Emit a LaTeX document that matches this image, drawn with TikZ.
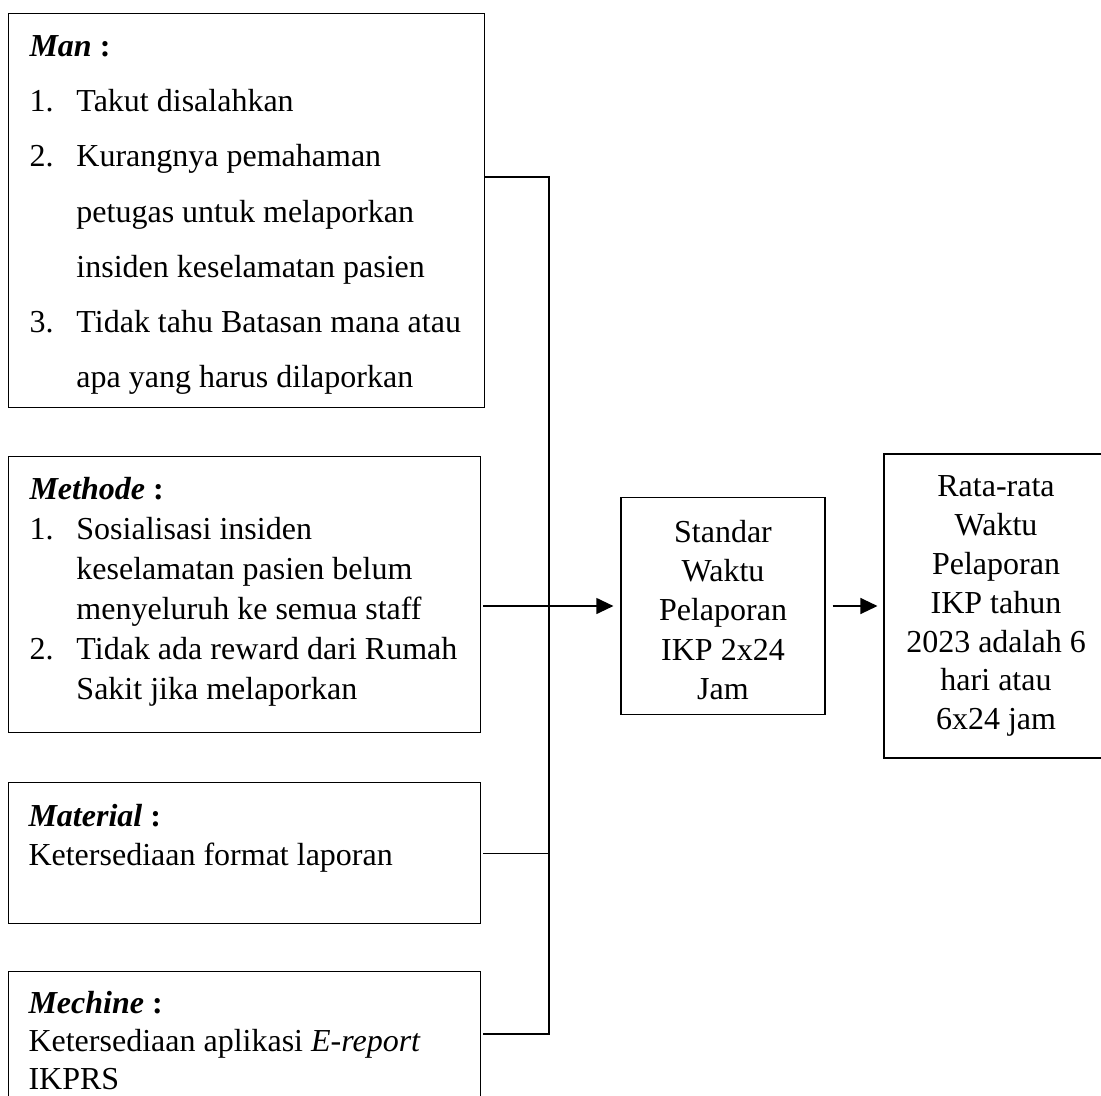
\documentclass[tikz,border=0pt]{standalone}
\usepackage{fontspec}
\setmainfont{Liberation Serif}
\usetikzlibrary{arrows.meta,positioning}
\newcommand{\judul}[1]{\textbf{\textit{#1} :}}
\newcommand{\nomor}[1]{\makebox[17.6pt][l]{#1}}
\newcommand{\lanjut}{\hspace*{17.6pt}}
\tikzset{
  kotak/.style={draw,line width=0.5pt,inner sep=0pt,rectangle},
  sebab/.style={kotak,anchor=north west,minimum width=177pt},
  isi/.style={align=left,inner sep=0pt,anchor=north west},
  garis/.style={line width=0.5pt},
  panah/.style={line width=0.5pt,-{Triangle[length=6.4pt,width=6pt]}}
}
\begin{document}
\begin{tikzpicture}[x=0.375pt,y=-0.375pt]
      \useasboundingbox (0,0) rectangle (1101,1095); % page size
      \node[sebab,minimum width=178.5pt,minimum height=147.75pt] (man) at (8,13) {}; % Man box
      \node[isi,font=\fontsize{12}{20.7}\selectfont] (mantext) at (29,35) {\judul{Man}\\
        \nomor{1.}Takut disalahkan\\
        \nomor{2.}Kurangnya pemahaman\\
        \lanjut petugas untuk melaporkan\\
        \lanjut insiden keselamatan pasien\\
        \nomor{3.}Tidak tahu Batasan mana atau\\
        \lanjut apa yang harus dilaporkan}; % Man text
      \node[sebab,minimum height=103.5pt] (method) at (8,456) {}; % Methode box
      \node[isi,font=\fontsize{12}{15}\selectfont] (methodtext) at (29,477) {\judul{Methode}\\
        \nomor{1.}Sosialisasi insiden\\
        \lanjut keselamatan pasien belum\\
        \lanjut menyeluruh ke semua staff\\
        \nomor{2.}Tidak ada reward dari Rumah\\
        \lanjut Sakit jika melaporkan}; % Methode text
      \node[sebab,minimum height=52.9pt] (material) at (8,782) {}; % Material box
      \node[isi,font=\fontsize{12}{14.4}\selectfont] (materialtext) at (28,804) {\judul{Material}\\
        Ketersediaan format laporan}; % Material text
      \node[sebab,minimum height=52.5pt] (mechine) at (8,971) {}; % Mechine box
      \node[isi,font=\fontsize{12}{14.2}\selectfont] (mechinetext) at (28,991) {\judul{Mechine}\\
        Ketersediaan aplikasi \textit{E-report}\\
        IKPRS}; % Mechine text
      \node[kotak,minimum width=76.5pt,minimum height=81.4pt] (stan) at (723,606) {}; % standar box
      \node[align=center,inner sep=0pt,font=\fontsize{12}{14.7}\selectfont] (stantext) at ([yshift=-1.5pt]stan.center) {Standar\\Waktu\\Pelaporan\\IKP 2x24\\Jam}; % standar text
      \node[kotak,minimum width=84pt,minimum height=114pt,align=center,font=\fontsize{12}{14.6}\selectfont] (rata) at (996,606) {Rata-rata\\Waktu\\Pelaporan\\IKP tahun\\2023 adalah 6\\hari atau\\6x24 jam}; % rata-rata box
      \coordinate (atas) at (549,177); % top of trunk
      \coordinate (bawah) at (549,1034); % bottom of trunk
      \draw[garis] (man.east |- atas) -- (atas) -- (bawah) -- ([xshift=0.75pt]mechine.east |- bawah); % Wiring
      \draw[garis] ([xshift=0.75pt]material.east) -- (material.east -| atas); % Wiring
      \draw[panah,shorten >=2.6pt] ([xshift=0.75pt]method.east |- stan.west) -- (stan.west); % arrow to standar
      \draw[panah,shorten <=2.6pt,shorten >=2.2pt] (stan.east) -- (rata.west); % arrow to rata-rata
\end{tikzpicture}
\end{document}
